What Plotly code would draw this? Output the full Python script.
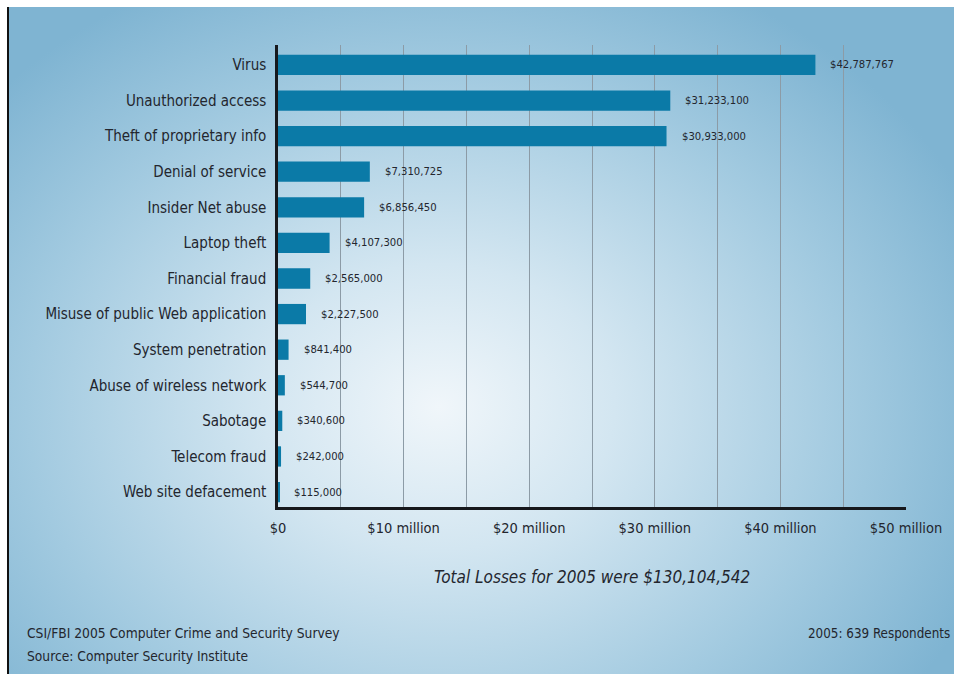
import base64
import plotly.graph_objects as go

categories = ["Virus", "Unauthorized access", "Theft of proprietary info",
              "Denial of service", "Insider Net abuse", "Laptop theft",
              "Financial fraud", "Misuse of public Web application",
              "System penetration", "Abuse of wireless network", "Sabotage",
              "Telecom fraud", "Web site defacement"]
losses = [42787767, 31233100, 30933000, 7310725, 6856450, 4107300,
          2565000, 2227500, 841400, 544700, 340600, 242000, 115000]
tick_vals = [0, 10e6, 20e6, 30e6, 40e6, 50e6]
tick_text = ["$0", "$10 million", "$20 million", "$30 million", "$40 million", "$50 million"]
title_text = "Total Losses for 2005 were $130,104,542"
footer_left = ["CSI/FBI 2005 Computer Crime and Security Survey",
               "Source: Computer Security Institute"]
footer_right = "2005: 639 Respondents"

W, H = 954, 674
L, R, T, B = 278, 48, 45, 167
PW, PH = W - L - R, H - T - B

def px_x(p):
    return (p - L) / PW

def px_y(p):
    return (H - B - p) / PH

FONT = "DejaVu Sans Condensed, Roboto Condensed, Arial Narrow, Roboto, sans-serif"
TXT = "#23262e"

svg = f'''<svg xmlns="http://www.w3.org/2000/svg" width="946" height="667" viewBox="0 0 946 667" preserveAspectRatio="none">
<defs><radialGradient id="g" gradientUnits="userSpaceOnUse" cx="430" cy="400" r="560" gradientTransform="translate(430 400) scale(1.05 0.85) translate(-430 -400)">
<stop offset="0" stop-color="#f0f6fa"/><stop offset="0.3" stop-color="#d3e6f1"/>
<stop offset="0.7" stop-color="#a2cae0"/><stop offset="1" stop-color="#7fb4d2"/></radialGradient></defs>
<rect x="0" y="0" width="946" height="667" fill="url(#g)"/></svg>'''
bg_src = "data:image/svg+xml;base64," + base64.b64encode(svg.encode()).decode()

fig = go.Figure()
fig.add_trace(go.Bar(
    x=losses, y=categories, orientation="h",
    marker=dict(color="#0b7aa7", line=dict(width=0)),
    width=0.57, hoverinfo="x+y",
))

annotations = []
for c, v in zip(categories, losses):
    annotations.append(dict(x=v, y=c, xref="x", yref="y", text=f"${v:,.0f}",
                            showarrow=False, xanchor="left", xshift=13,
                            font=dict(family=FONT, size=11.2, color=TXT)))
annotations.append(dict(x=0.5, y=px_y(577), xref="paper", yref="paper",
                        text=f"<i>{title_text}</i>", showarrow=False,
                        xanchor="center", yanchor="middle",
                        font=dict(family=FONT, size=17, color=TXT)))
for i, t in enumerate(footer_left):
    annotations.append(dict(x=px_x(25), y=px_y(633 + 23 * i), xref="paper", yref="paper",
                            text=t, showarrow=False, xanchor="left", yanchor="middle",
                            font=dict(family=FONT, size=13.7, color=TXT)))
annotations.append(dict(x=px_x(952), y=px_y(633), xref="paper", yref="paper",
                        text=footer_right, showarrow=False, xanchor="right", yanchor="middle",
                        font=dict(family=FONT, size=13.3, color=TXT)))

fig.update_layout(
    width=W, height=H,
    margin=dict(l=L, r=R, t=T, b=B),
    paper_bgcolor="white", plot_bgcolor="rgba(0,0,0,0)",
    showlegend=False, bargap=0.43,
    images=[dict(source=bg_src, xref="paper", yref="paper",
                 x=px_x(9), y=px_y(7), sizex=(W - 9) / PW, sizey=(H - 7) / PH,
                 xanchor="left", yanchor="top", sizing="stretch", layer="below")],
    shapes=[dict(type="line", xref="paper", yref="paper",
                 x0=px_x(8), x1=px_x(8), y0=px_y(7), y1=px_y(H),
                 line=dict(color="#111111", width=2))],
    annotations=annotations,
    xaxis=dict(range=[0, 50e6], tickmode="array", tickvals=tick_vals, ticktext=tick_text,
               showgrid=True, gridcolor="#8c9ba6", gridwidth=1,
               minor=dict(tickmode="linear", tick0=0, dtick=5e6, showgrid=True,
                          gridcolor="#8c9ba6", gridwidth=1),
               showline=True, linecolor="#16181c", linewidth=2.5,
               ticks="outside", ticklen=6, tickcolor="rgba(0,0,0,0)",
               tickfont=dict(family=FONT, size=14.5, color=TXT),
               zeroline=False, fixedrange=True),
    yaxis=dict(categoryorder="array", categoryarray=categories,
               range=[12.42, -0.56],
               showline=True, linecolor="#16181c", linewidth=2.5,
               ticks="outside", ticklen=6, tickcolor="rgba(0,0,0,0)",
               tickfont=dict(family=FONT, size=15, color=TXT),
               showgrid=False, zeroline=False, fixedrange=True),
)

fig.write_html("out.html", config={"displayModeBar": False},
               post_script="document.body.style.margin='0';")
